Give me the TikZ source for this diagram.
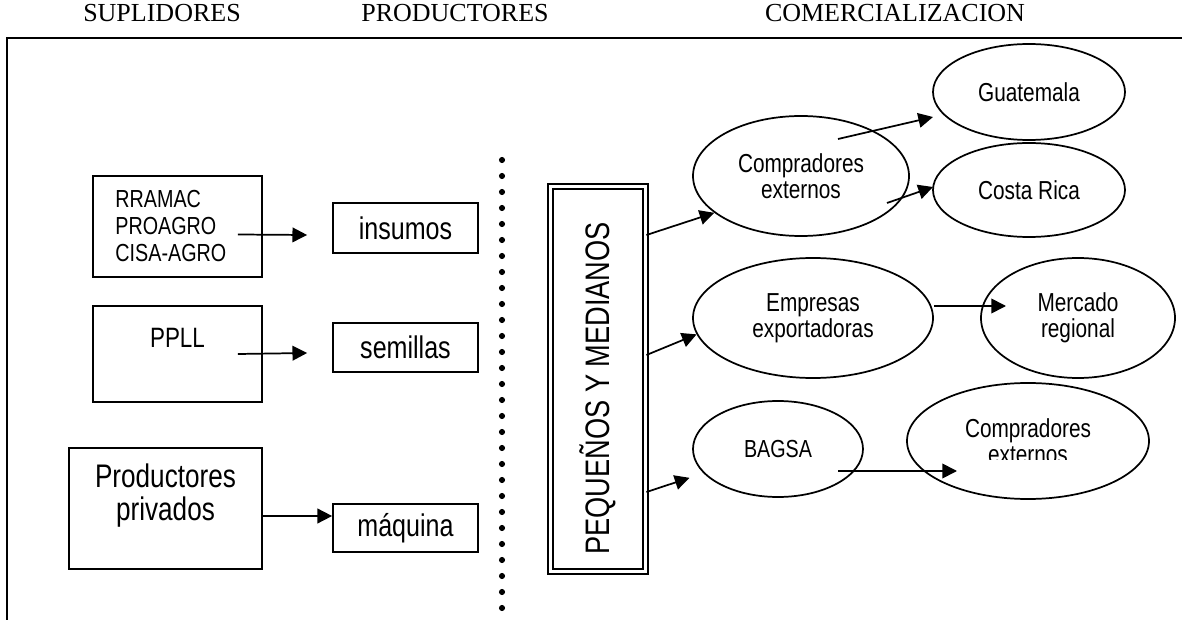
\documentclass[tikz,border=0pt]{standalone}
\usepackage{fontspec}
\setmainfont{Liberation Serif}
\newfontfamily\narrowsans[FakeStretch=0.8]{Liberation Sans}
\usepackage{tikz}
\usetikzlibrary{shapes,arrows.meta,positioning}
\tikzstyle{headtext} = [font=\fontsize{19.5}{21}\selectfont, anchor=base, inner sep=0pt]
\tikzstyle{box} = [rectangle, draw=black, line width=1.3pt, align=center, inner sep=0pt]
\tikzstyle{smallbox} = [box, minimum width=108.75pt, font=\narrowsans\fontsize{23.5}{26}\selectfont]
\tikzstyle{dbox} = [box, line width=1.2pt, double, double distance=2.6pt, font=\narrowsans\fontsize{25.5}{27}\selectfont]
\tikzstyle{elli} = [ellipse, draw=black, line width=1.3pt, align=center, inner sep=0pt, font=\narrowsans\fontsize{19.5}{19.5}\selectfont]
\tikzstyle{tedge} = [draw, line width=1.3pt, -{Triangle[length=11pt,width=11pt]}]

\begin{document}
\begin{tikzpicture}[x=0.75pt, y=-0.75pt]
\useasboundingbox (0,0) rectangle (1182,620);

% headings and frame
\node[headtext] (hsup) at (162,22) {SUPLIDORES};
\node[headtext] (hpro) at (455,22) {PRODUCTORES};
\node[headtext] (hcom) at (895,22) {COMERCIALIZACION};
\draw[line width=1.5pt] (7,620) -- (7,38) -- (1182,38);

% suplidores
\node[box, minimum width=126.75pt, minimum height=75.75pt, align=left,
      font=\narrowsans\fontsize{18.5}{20.25}\selectfont] (sup1) at (177.5,226.5) {RRAMAC\\PROAGRO\\CISA-AGRO\hspace*{10pt}};
\node[box, minimum width=126.75pt, minimum height=72pt,
      font=\narrowsans\fontsize{21}{24}\selectfont] (sup2) at (177.5,354) {PPLL\\\mbox{}};
\node[box, minimum width=144.75pt, minimum height=90.75pt,
      font=\narrowsans\fontsize{24.5}{24.75}\selectfont] (sup3) at (165.5,508.5) {Productores\\privados\\\mbox{}};

\node[smallbox, minimum height=37.5pt] (ins) at (405.5,228) {insumos};
\node[smallbox, minimum height=36.75pt] (sem) at (405.5,347.5) {semillas};
\node[smallbox, minimum height=36pt] (maq) at (405.5,528) {máquina};

% dotted divider
\foreach \i in {0,...,28}
  \fill (502,160+16*\i) circle (2.3pt);

% productores
\node[dbox, rotate=90, minimum width=289pt, minimum height=71.5pt] (pym) at (598,379)
  {\raisebox{4.5pt}{PEQUEÑOS Y MEDIANOS}\hspace*{14pt}};

% comercializacion
\node[elli, minimum width=162pt, minimum height=90pt] (ce1) at (801,176) {Compradores\\externos};
\node[elli, minimum width=144pt, minimum height=72pt] (guat) at (1029,92) {Guatemala};
\node[elli, minimum width=144pt, minimum height=70.5pt] (cr) at (1029,190) {Costa Rica};
\node[elli, minimum width=180pt, minimum height=90pt] (emp) at (813,318) {Empresas\\exportadoras};
\node[elli, minimum width=145.5pt, minimum height=90pt] (merc) at (1078,318) {Mercado\\regional};
\node[elli, minimum width=127.5pt, minimum height=72pt, font=\narrowsans\fontsize{18.5}{19}\selectfont] (bag) at (778,449) {BAGSA};
\node[elli, minimum width=181.5pt, minimum height=87pt] (ce2) at (1028,441) {Compradores\\externos};
\fill[white] ([shift={(-50,19)}]ce2.center) rectangle ([shift={(50,32)}]ce2.center);

% edges
\path[tedge] ([shift={(-25,8)}]sup1.east) -- ([shift={(-25,7)}]ins.west);
\path[tedge] ([shift={(-25,0)}]sup2.east) -- ([shift={(-25,5.5)}]sem.west);
\path[tedge] ([shift={(0,7.5)}]sup3.east) -- ([shift={(0,-12)}]maq.west);
\path[tedge] (pym.south |- 0,235) -- (ce1.203);
\path[tedge] (pym.south |- 0,355) -- (emp.188);
\path[tedge, shorten >=11pt] (pym.south |- 0,492) -- (bag.198);
\path[tedge] ([shift={(37,-37)}]ce1.center) -- ([shift={(-96,25)}]guat.center);
\path[tedge] ([shift={(86,27)}]ce1.center) -- ([shift={(-96,-3)}]cr.center);
\path[tedge] ([shift={(0,-12)}]emp.east) -- ([shift={(-72,-12)}]merc.center);
\path[tedge] ([shift={(60,22)}]bag.center) -- ([shift={(-71,30)}]ce2.center);

\end{tikzpicture}
\end{document}
